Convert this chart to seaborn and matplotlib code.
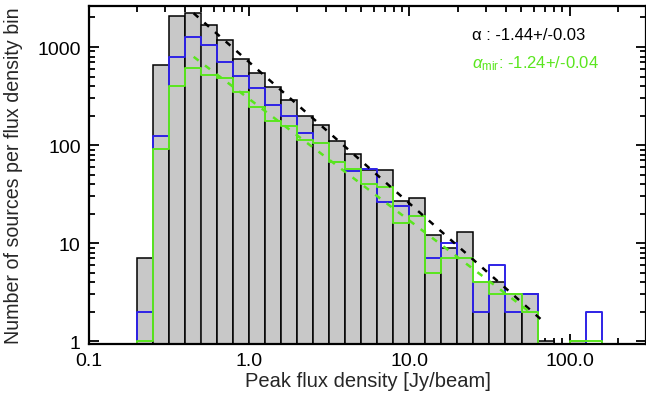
import numpy as np
import pandas as pd
import matplotlib
matplotlib.use("Agg")
import matplotlib.pyplot as plt
import seaborn as sns
from matplotlib.ticker import FixedLocator, FixedFormatter, LogLocator, NullFormatter

# ---- data -------------------------------------------------------------
# bins: 0.1 dex wide, lower edges in log10(flux) from -0.8 to 2.2
log_bin_start = np.round(np.arange(-0.8, 2.25, 0.1), 2)
total_counts = [0, 7, 650, 2050, 2220, 1690, 1180, 760, 545, 390, 288, 196, 161,
                111, 81, 56, 56, 27, 29, 12, 9, 13, 4, 4, 3, 3, 1, 0, 1, 0, 0]
blue_counts = [0, 2, 123, 790, 1280, 1050, 700, 512, 381, 258, 198, 134, 106,
               67, 55, 57, 26, 24, 19, 7, 10, 7, 2, 6, 2, 3, 0, 0, 0, 2, 0]
green_counts = [0, 1, 92, 396, 609, 520, 482, 347, 244, 178, 155, 112, 104,
                67, 57, 40, 37, 16, 19, 5, 7, 7, 4, 3, 3, 2, 0, 0, 1, 1, 0]

# power-law fits  N = norm * S^alpha
fit_black = dict(alpha=-1.44, norm=700.0, smin=0.45, smax=70.0)
fit_green = dict(alpha=-1.24, norm=295.0, smin=0.45, smax=56.0)
completeness_limit = 0.49

x_ticks = [0.1, 1.0, 10.0, 100.0]
x_ticklabels = ["0.1", "1.0", "10.0", "100.0"]
y_ticks = [1, 10, 100, 1000]
y_ticklabels = ["1", "10", "100", "1000"]

# ---- style ------------------------------------------------------------
sns.set_style("ticks")
plt.rcParams['font.family'] = ['Liberation Sans', 'DejaVu Sans']
plt.rcParams['mathtext.fontset'] = 'custom'
plt.rcParams['mathtext.rm'] = 'Liberation Sans'
plt.rcParams['mathtext.it'] = 'Liberation Sans:italic'

GRAY = "#c8c8c8"
BLUE = "#2e22e6"
GREEN = "#5ae61e"

fig = plt.figure(figsize=(6.46, 4.06), dpi=100)
ax = fig.add_axes([89/646, 61/406, 557/646, 338/406])

edges = [float(e) for e in np.round(np.append(log_bin_start, log_bin_start[-1] + 0.1), 2)]
centers = 10 ** (log_bin_start + 0.05)
df = pd.DataFrame({"flux": centers, "total": total_counts,
                   "blue": blue_counts, "green": green_counts})

sns.histplot(data=df, x="flux", weights="total", bins=edges, log_scale=True,
             element="bars", color=GRAY, edgecolor="black", linewidth=1.1,
             alpha=1.0, ax=ax)

# completeness line
sns.lineplot(x=[completeness_limit, completeness_limit], y=[0.935, 2200],
             color="#808080", linestyle=(0, (1, 1.5)), linewidth=1.0, ax=ax)

sns.histplot(data=df, x="flux", weights="blue", bins=edges, log_scale=True,
             element="step", fill=False, color=BLUE, linewidth=1.4, ax=ax)
sns.histplot(data=df, x="flux", weights="green", bins=edges, log_scale=True,
             element="step", fill=False, color=GREEN, linewidth=1.4, ax=ax)

for fit, col in [(fit_black, "black"), (fit_green, GREEN)]:
    sx = np.array([fit["smin"], fit["smax"]])
    sy = fit["norm"] * sx ** fit["alpha"]
    sns.lineplot(x=sx, y=sy, color=col, linestyle=(0, (2.5, 3.2)),
                 linewidth=1.8, ax=ax)

ax.set_yscale("log")
ax.set_xlim(0.1, 300)
ax.set_ylim(0.935, 2620)

ax.xaxis.set_major_locator(FixedLocator(x_ticks))
ax.xaxis.set_major_formatter(FixedFormatter(x_ticklabels))
ax.xaxis.set_minor_locator(LogLocator(base=10, subs=np.arange(2, 10), numticks=20))
ax.xaxis.set_minor_formatter(NullFormatter())
ax.yaxis.set_major_locator(FixedLocator(y_ticks))
ax.yaxis.set_major_formatter(FixedFormatter(y_ticklabels))
ax.yaxis.set_minor_locator(LogLocator(base=10, subs=np.arange(2, 10), numticks=20))
ax.yaxis.set_minor_formatter(NullFormatter())

ax.tick_params(which="both", direction="in", top=True, right=True,
               width=1.3, colors="black", labelsize=14)
ax.tick_params(which="major", length=7, pad=6)
ax.tick_params(which="minor", length=4)
for s in ax.spines.values():
    s.set_linewidth(1.6)
    s.set_color("black")

ax.set_xlabel("Peak flux density [Jy/beam]", fontsize=14.5, labelpad=1)
ax.set_ylabel("Number of sources per flux density bin", fontsize=14.1, labelpad=10)

ax.text(0.688, 0.917, "α : -1.44+/-0.03", transform=ax.transAxes,
        fontsize=12, color="black", va="center", ha="left")
ax.text(0.688, 0.831, r"$\alpha_{\rm mir}$: -1.24+/-0.04", transform=ax.transAxes,
        fontsize=12, color=GREEN, va="center", ha="left")

fig.savefig("out.png", dpi=100)
